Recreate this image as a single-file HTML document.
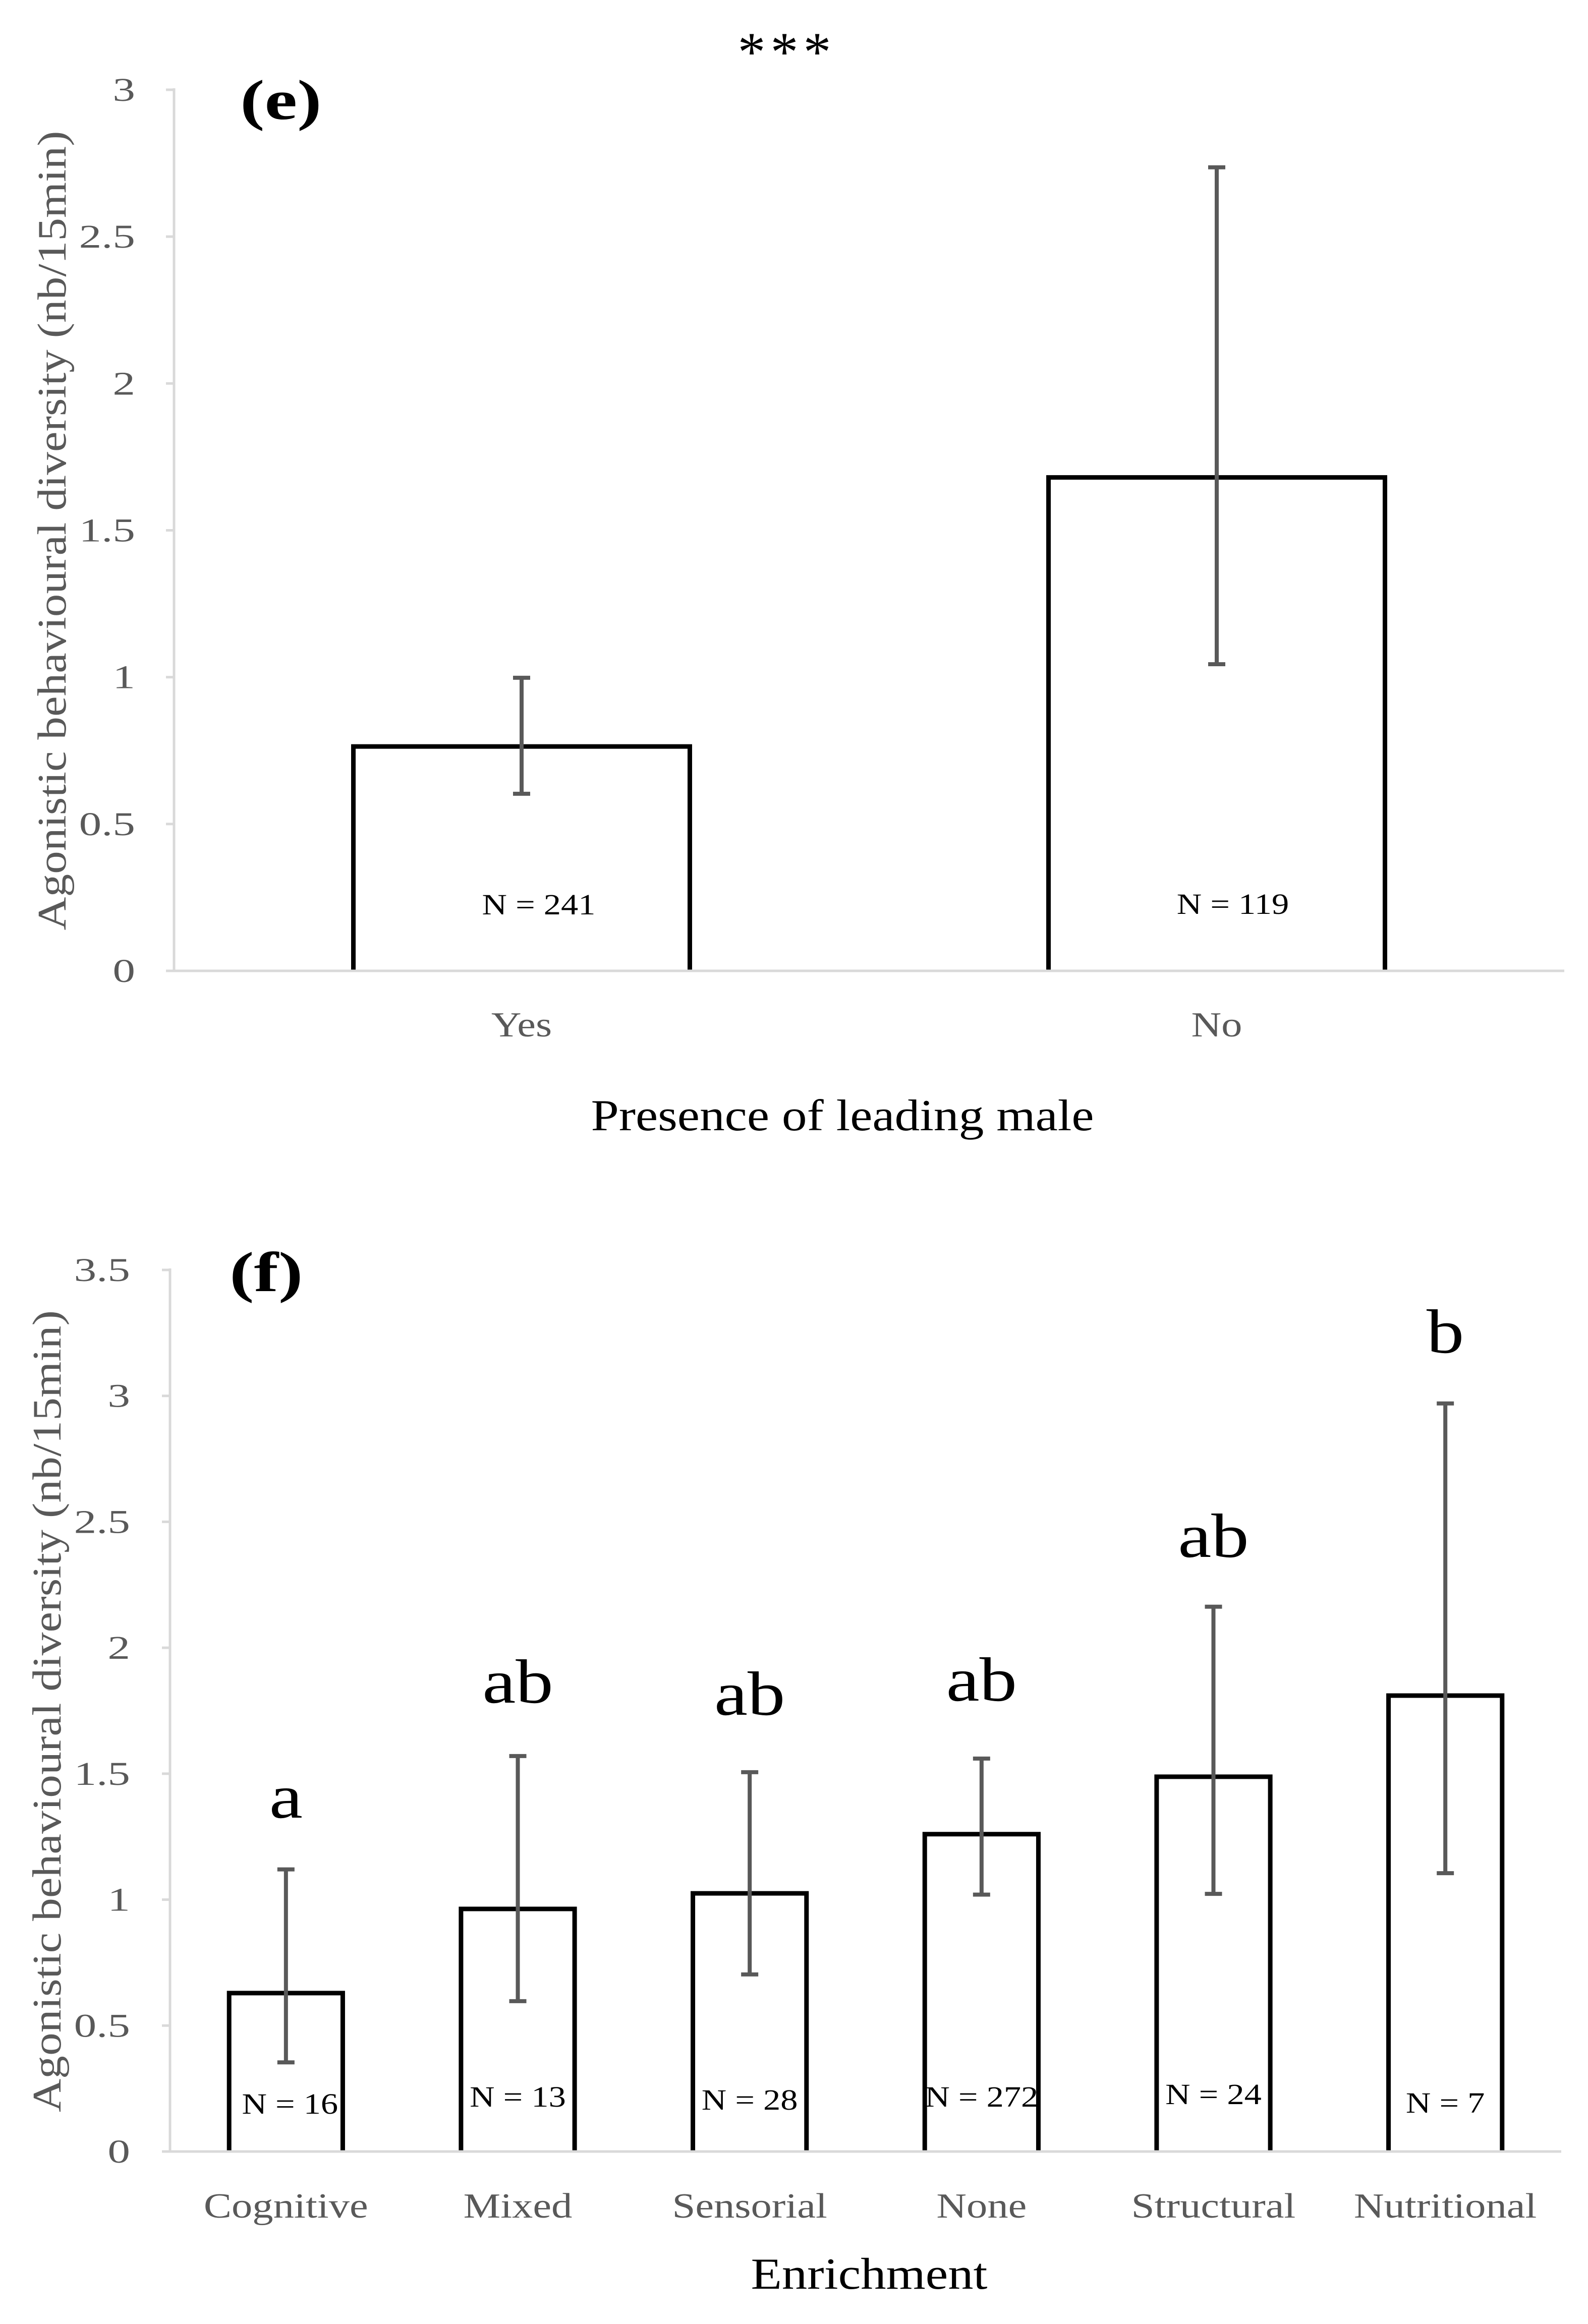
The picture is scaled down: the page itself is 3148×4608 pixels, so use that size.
<!DOCTYPE html>
<html><head><meta charset="utf-8"><style>
html,body{margin:0;padding:0;background:#fff;}
svg{display:block;font-family:"Liberation Serif",serif;}
</style></head><body>
<svg id="fig" width="3148" height="4608" viewBox="0 0 3148 4608" xmlns="http://www.w3.org/2000/svg">
<rect width="3148" height="4608" fill="#fff"/>
<g id="chartE"></g>
<g id="chartF"></g>
</svg>
<script>
// Chart (e) data
const eCategories = ["Yes", "No"];
const eValues = [0.764, 1.68];
const eErrLow = [0.603, 1.044];
const eErrHigh = [0.998, 2.736];
const eNLabels = ["N = 241", "N = 119"];
const eTicks = [0, 0.5, 1, 1.5, 2, 2.5, 3];
const eTickLabels = ["0", "0.5", "1", "1.5", "2", "2.5", "3"];

// Chart (f) data
const fCategories = ["Cognitive", "Mixed", "Sensorial", "None", "Structural", "Nutritional"];
const fValues = [0.629, 0.963, 1.025, 1.26, 1.488, 1.81];
const fErrLow = [0.354, 0.597, 0.703, 1.02, 1.023, 1.105];
const fErrHigh = [1.12, 1.57, 1.506, 1.56, 2.163, 2.97];
const fNLabels = ["N = 16", "N = 13", "N = 28", "N = 272", "N = 24", "N = 7"];
const fLetters = ["a", "ab", "ab", "ab", "ab", "b"];
const fTicks = [0, 0.5, 1, 1.5, 2, 2.5, 3, 3.5];
const fTickLabels = ["0", "0.5", "1", "1.5", "2", "2.5", "3", "3.5"];

const NS = "http://www.w3.org/2000/svg";
function mk(parent, tag, attrs, text) {
  const el = document.createElementNS(NS, tag);
  for (const k in attrs) el.setAttribute(k, attrs[k]);
  if (text !== undefined) el.textContent = text;
  parent.appendChild(el);
  return el;
}
function widen(el, f) {
  const w = el.getComputedTextLength();
  if (w > 0) {
    el.setAttribute("textLength", (w * f).toFixed(1));
    el.setAttribute("lengthAdjust", "spacingAndGlyphs");
  }
}

function drawChart(g, cfg) {
  const x0 = cfg.x0, x1 = cfg.x1, yBase = cfg.yBase, yTop = cfg.yTop, vmax = cfg.vmax;
  const yScale = v => yBase - (v / vmax) * (yBase - yTop);
  const n = cfg.categories.length;
  const step = (x1 - x0) / n;
  const xCenter = i => x0 + step * (i + 0.5);
  const bw = step * cfg.barFrac;

  cfg.ticks.forEach((t, i) => {
    const y = yScale(t);
    const tk = mk(g, "line", {x1: x0 - 16, y1: y, x2: x0, y2: y, stroke: "#d9d9d9", "stroke-width": 5});
    
    
    const tl = mk(g, "text", {x: cfg.tickRight, y: y + 22, "text-anchor": "end", "font-size": 66, fill: "#595959"}, cfg.tickLabels[i]);
    
    
    widen(tl, 1.35);
  });
  const ya = mk(g, "line", {x1: x0, y1: yTop - 3, x2: x0, y2: yBase, stroke: "#d9d9d9", "stroke-width": 5});
  
  

  cfg.categories.forEach((c, i) => {
    const cx = xCenter(i);
    const top = yScale(cfg.values[i]);
    const l = cx - bw / 2, r = cx + bw / 2;
    const bar = mk(g, "path", {d: "M" + l + "," + yBase + " L" + l + "," + top + " L" + r + "," + top + " L" + r + "," + yBase, fill: "#fff", stroke: "#000", "stroke-width": 9});
    
    
    const yl = yScale(cfg.errLow[i]), yh = yScale(cfg.errHigh[i]);
    const eg = mk(g, "g", {stroke: "#595959", "stroke-width": 8});
    
    
    mk(eg, "line", {x1: cx, y1: yl, x2: cx, y2: yh});
    mk(eg, "line", {x1: cx - 17, y1: yl, x2: cx + 17, y2: yl});
    mk(eg, "line", {x1: cx - 17, y1: yh, x2: cx + 17, y2: yh});
    const nl = mk(g, "text", {x: cx + cfg.nOffset[i], y: cfg.nBase[i], "text-anchor": "middle", "font-size": 58, fill: "#000"}, cfg.nLabels[i]);
    
    
    widen(nl, 1.18);
    const cl = mk(g, "text", {x: cx, y: cfg.catBase, "text-anchor": "middle", "font-size": 70, fill: "#595959"}, c);
    
    
    widen(cl, 1.18);
    if (cfg.letters) {
      const lt = mk(g, "text", {x: cx, y: cfg.letterBase[i], "text-anchor": "middle", "font-size": 124, fill: "#000"}, cfg.letters[i]);
      
      
      widen(lt, 1.2);
    }
  });
  const xa = mk(g, "line", {x1: x0, y1: yBase, x2: x1, y2: yBase, stroke: "#d9d9d9", "stroke-width": 5});
  
  

  const yt = mk(g, "text", {x: 0, y: 0, transform: "translate(" + cfg.yTitleX + "," + cfg.yTitleY + ") rotate(-90)", "text-anchor": "middle", "font-size": 80, fill: "#595959", textLength: cfg.yTitleLen, lengthAdjust: "spacingAndGlyphs"}, "Agonistic behavioural diversity (nb/15min)");
  
  
  const xt = mk(g, "text", {x: cfg.xTitleX, y: cfg.xTitleBase, "text-anchor": "middle", "font-size": 88, fill: "#000", textLength: cfg.xTitleLen, lengthAdjust: "spacingAndGlyphs"}, cfg.xTitle);
  
  
  const pl = mk(g, "text", {x: cfg.panelX, y: cfg.panelBase, "font-size": 112, "font-weight": "bold", fill: "#000"}, cfg.panel);
  
  
  widen(pl, 1.3);
}

drawChart(document.getElementById("chartE"), {
  x0: 345, x1: 3101, yBase: 1925, yTop: 178, vmax: 3,
  categories: eCategories, values: eValues, errLow: eErrLow, errHigh: eErrHigh,
  nLabels: eNLabels, nBase: [1813, 1812], nOffset: [34, 32],
  ticks: eTicks, tickLabels: eTickLabels, tickRight: 268,
  barFrac: 0.484, catBase: 2055,
  yTitleX: 130, yTitleY: 1052, yTitleLen: 1585,
  xTitle: "Presence of leading male", xTitleX: 1670, xTitleBase: 2241, xTitleLen: 997,
  panel: "(e)", panelX: 476, panelBase: 236
});

drawChart(document.getElementById("chartF"), {
  x0: 337, x1: 3095, yBase: 4266, yTop: 2518, vmax: 3.5,
  categories: fCategories, values: fValues, errLow: fErrLow, errHigh: fErrHigh,
  nLabels: fNLabels, nBase: [4191, 4177, 4183, 4177, 4172, 4189], nOffset: [8, 0, 0, 0, 0, 0],
  ticks: fTicks, tickLabels: fTickLabels, tickRight: 258,
  barFrac: 0.49, catBase: 4397, letters: fLetters,
  letterBase: [3604, 3376, 3400, 3372, 3087, 2682],
  yTitleX: 120, yTitleY: 3393, yTitleLen: 1590,
  xTitle: "Enrichment", xTitleX: 1723, xTitleBase: 4538, xTitleLen: 469,
  panel: "(f)", panelX: 455, panelBase: 2560
});

const star = mk(document.getElementById("fig"), "text", {x: 1560, y: 140, "text-anchor": "middle", "font-size": 110, fill: "#000", "letter-spacing": "10"}, "***");


</script>
</body></html>
